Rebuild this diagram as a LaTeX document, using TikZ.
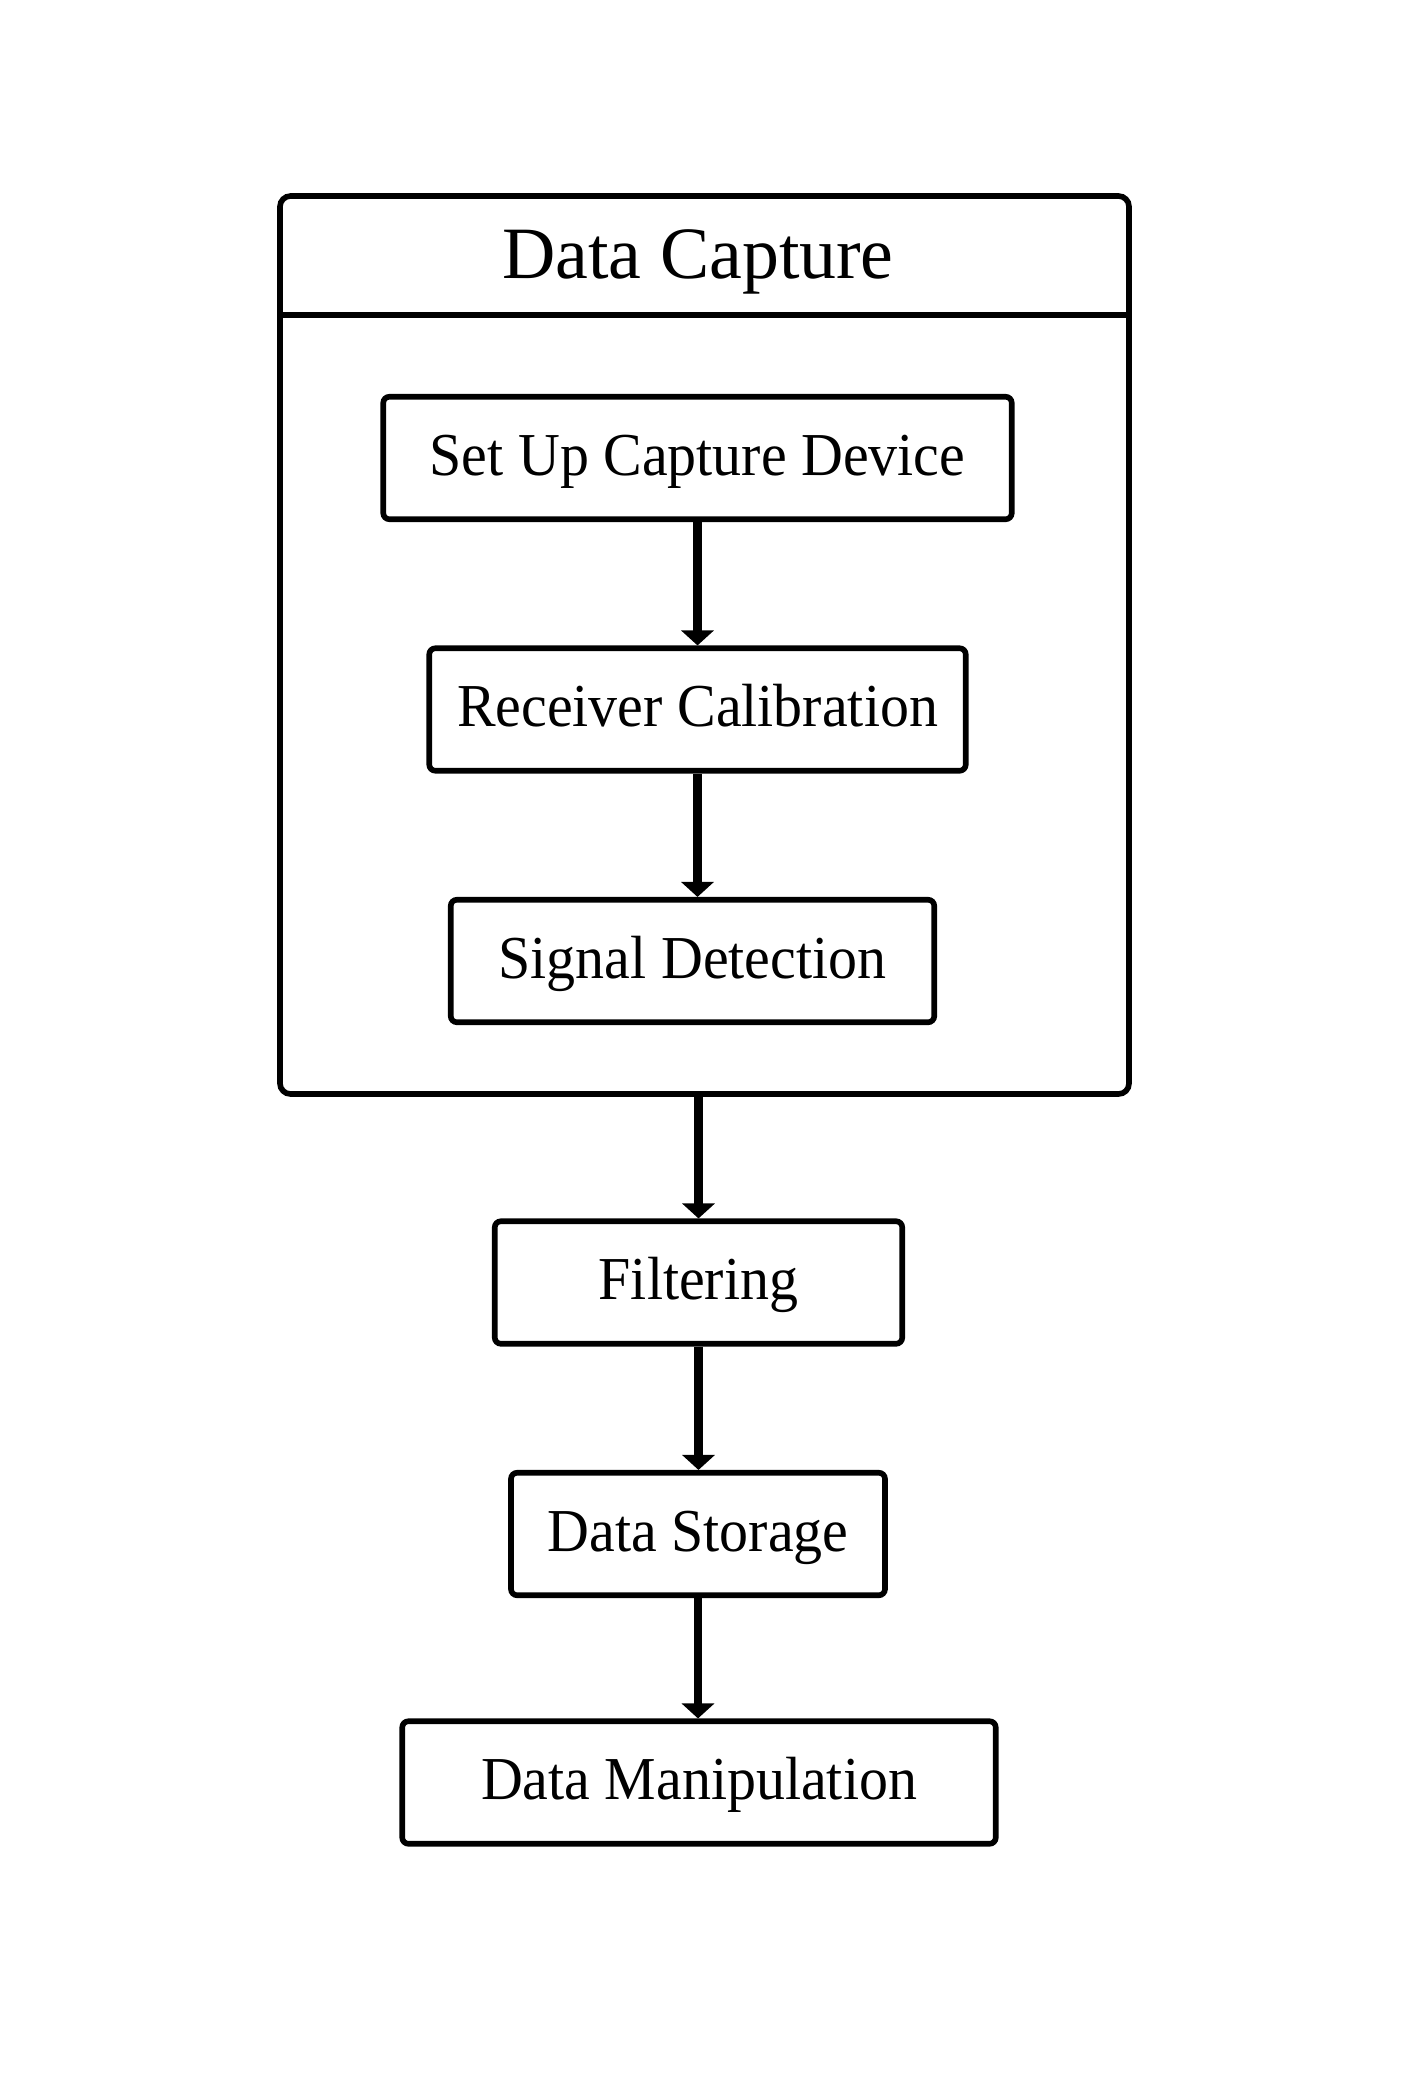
\documentclass[tikz,border=0pt]{standalone}
\usepackage{fontspec}
\setmainfont{Liberation Serif}
\newfontfamily\boxfont{Liberation Serif}[FakeStretch=0.95]
\usetikzlibrary{positioning,arrows.meta}

\begin{document}
\begin{tikzpicture}[
    frame/.style={draw=black, line width=3.2pt, rounded corners=6pt,
      minimum width=16.98cm, minimum height=17.96cm},
    hdr/.style={inner sep=0pt, text height=34pt, text depth=7.5pt,
      font=\fontsize{42}{48}\selectfont},
    box/.style={draw=black, line width=3.2pt, rounded corners=3.5pt, fill=white,
      minimum height=2.45cm, inner sep=0pt, text height=27pt, text depth=7.5pt,
      font=\boxfont\fontsize{34.7}{40}\selectfont},
    arrow/.style={-{Triangle[width=0.64cm,length=0.3cm]}, line width=4.8pt}
  ]
    \useasboundingbox (0,0) rectangle (28.22,-41.76);
    \node[frame] (CAP) at (14.09,-12.9) {};
    \node[hdr] (HEAD) at (13.96,-5.11) {Data Capture};
    \draw[line width=3.2pt] (CAP.west |- 0,-6.3) -- (CAP.east |- 0,-6.3);
    \node[box, minimum width=12.57cm] (SETUP) at (13.95,-9.16) {Set Up Capture Device};
    \node[box, minimum width=10.73cm] (CALIB) at (13.95,-14.19) {Receiver Calibration};
    \node[box, minimum width=9.67cm] (DETECT) at (13.85,-19.22) {Signal Detection};
    \node[box, minimum width=8.15cm] (FILT) at (13.97,-25.65) {Filtering};
    \node[box, minimum width=7.48cm] (STORE) at (13.96,-30.68) {Data Storage};
    \node[box, minimum width=11.87cm] (MANIP) at (13.98,-35.65) {Data Manipulation};
    \draw[arrow] (SETUP.south) -- (SETUP.south |- CALIB.north);
    \draw[arrow] (CALIB.south) -- (CALIB.south |- DETECT.north);
    \draw[arrow] (CAP.south -| FILT.north) -- (FILT.north);
    \draw[arrow] (FILT.south) -- (FILT.south |- STORE.north);
    \draw[arrow] (STORE.south) -- (STORE.south |- MANIP.north);
  \end{tikzpicture}
\end{document}
